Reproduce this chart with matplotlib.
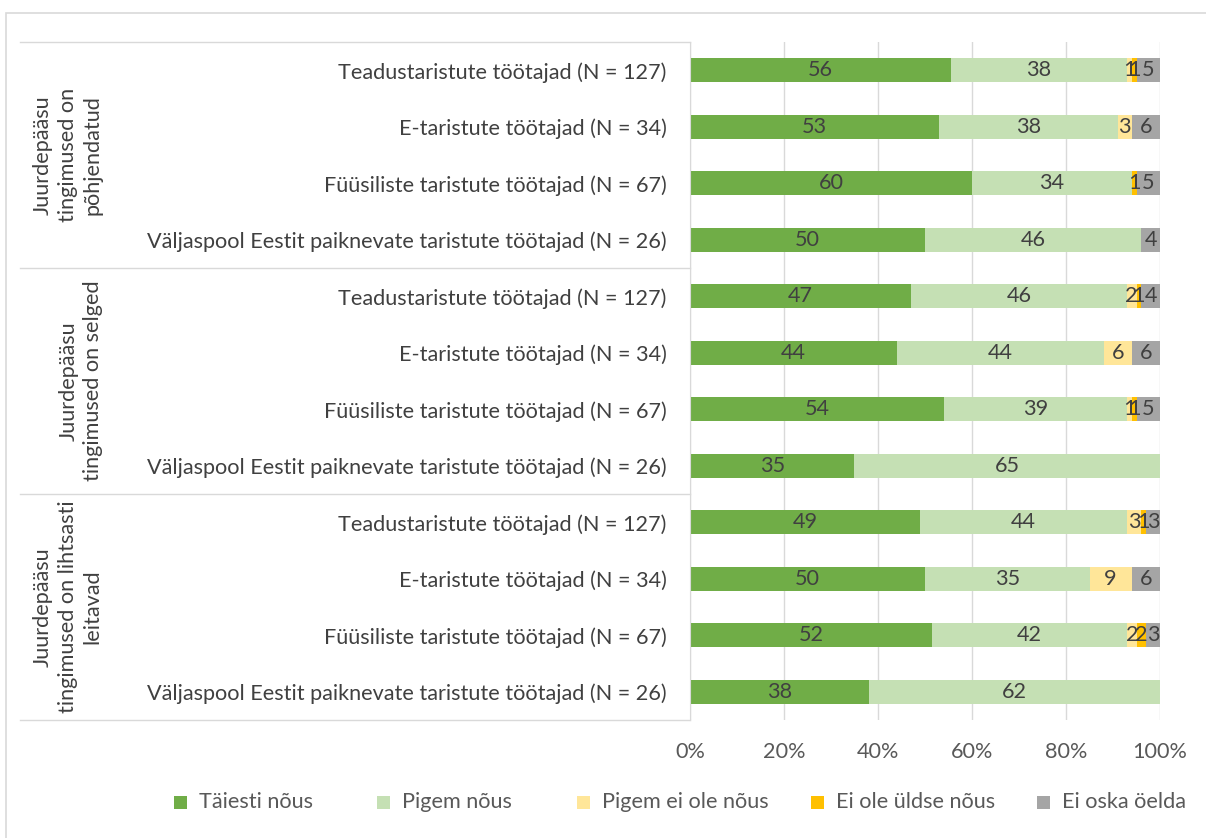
import numpy as np
import matplotlib.pyplot as plt
import matplotlib.transforms as mtransforms
from matplotlib.lines import Line2D
from matplotlib.patches import Rectangle

plt.rcParams['font.family'] = ['Lato', 'DejaVu Sans']

# groups (category axis, outer level)
groups = ['Juurdepääsu\ntingimused on\npõhjendatud',
          'Juurdepääsu\ntingimused on selged',
          'Juurdepääsu\ntingimused on lihtsasti\nleitavad']
# inner level, repeated inside every group
rows = ['Teadustaristute töötajad (N = 127)',
        'E-taristute töötajad (N = 34)',
        'Füüsiliste taristute töötajad (N = 67)',
        'Väljaspool Eestit paiknevate taristute töötajad (N = 26)']

series_names = ['Täiesti nõus', 'Pigem nõus', 'Pigem ei ole nõus',
                'Ei ole üldse nõus', 'Ei oska öelda']
taiesti = [56, 53, 60, 50, 47, 44, 54, 35, 49, 50, 52, 38]
pigem = [38, 38, 34, 46, 46, 44, 39, 65, 44, 35, 42, 62]
pigem_ei = [1, 3, 0, 0, 2, 6, 1, 0, 3, 9, 2, 0]
ei_ole = [1, 0, 1, 0, 1, 0, 1, 0, 1, 0, 2, 0]
ei_oska = [5, 6, 5, 4, 4, 6, 5, 0, 3, 6, 3, 0]
colors = ['#70AD47', '#C5E0B4', '#FFE699', '#FFC000', '#A5A5A5']

data = np.array([taiesti, pigem, pigem_ei, ei_ole, ei_oska], dtype=float)
totals = data.sum(axis=0)
shares = data / totals

labels = [r for g in groups for r in rows]
y = np.arange(len(labels))

W, H = 1206, 838
fs = 15.6
fig = plt.figure(figsize=(W / 100, H / 100), dpi=100)
ax = fig.add_axes([690 / W, 1 - 720 / H, 470 / W, 678 / H])

txt_col = '#404040'
left = np.zeros(len(labels))
for k in range(len(series_names)):
    ax.barh(y, shares[k], left=left, height=0.43, color=colors[k],
            label=series_names[k], zorder=2)
    for i in range(len(labels)):
        if data[k, i] > 0:
            ax.text(left[i] + shares[k, i] / 2, y[i], '%d' % data[k, i],
                    ha='center', va='center', fontsize=fs, color=txt_col, zorder=3)
    left += shares[k]

ax.set_xlim(0, 1)
ax.set_ylim(len(labels) - 0.5, -0.5)
ax.set_xticks(np.linspace(0, 1, 6))
ax.set_xticklabels(['%d%%' % v for v in range(0, 101, 20)], fontsize=fs, color='#595959')
ax.set_yticks(y)
ax.set_yticklabels(labels, fontsize=fs, color=txt_col)
ax.tick_params(length=0)
ax.tick_params(axis='x', pad=16)
ax.tick_params(axis='y', pad=17)
ax.grid(axis='x', color='#D9D9D9', lw=1, zorder=0)
for s in ['top', 'right', 'bottom']:
    ax.spines[s].set_visible(False)
ax.spines['left'].set_color('#D9D9D9')
ax.spines['left'].set_zorder(4)

# group separators and group labels
trans = mtransforms.blended_transform_factory(ax.transAxes, ax.transData)
x0 = (20 - 690) / 470
for b in [-0.5, 3.5, 7.5, 11.5]:
    ax.add_line(Line2D([x0, 0], [b, b], transform=trans, color='#D9D9D9',
                       lw=1, clip_on=False))
gx = [(68 - 690) / 470, (81 - 690) / 470, (68 - 690) / 470]
for g, name in enumerate(groups):
    ax.text(gx[g], 4 * g + 1.5, name, transform=trans, rotation=90,
            ha='center', va='center', multialignment='center',
            fontsize=fs, color=txt_col, linespacing=1.3)

# chart border (runs off the right and bottom edges, like the source crop)
fig.add_artist(Rectangle((6 / W, -0.02), 1.05, 1.02 - 13 / H,
                         transform=fig.transFigure, fill=False,
                         edgecolor='#D9D9D9', lw=1.2))

# legend, laid out like Excel's fixed-width entries
leg_x = [174, 377, 577, 811, 1037]
leg_y = 802
sq = 13
for xp, c, n in zip(leg_x, colors, series_names):
    fig.add_artist(Rectangle((xp / W, 1 - (leg_y + sq / 2) / H), sq / W, sq / H,
                             transform=fig.transFigure, facecolor=c, edgecolor='none'))
    fig.text((xp + 25) / W, 1 - leg_y / H, n, ha='left', va='center',
             fontsize=fs, color='#595959')

fig.savefig('out.png', dpi=100)
